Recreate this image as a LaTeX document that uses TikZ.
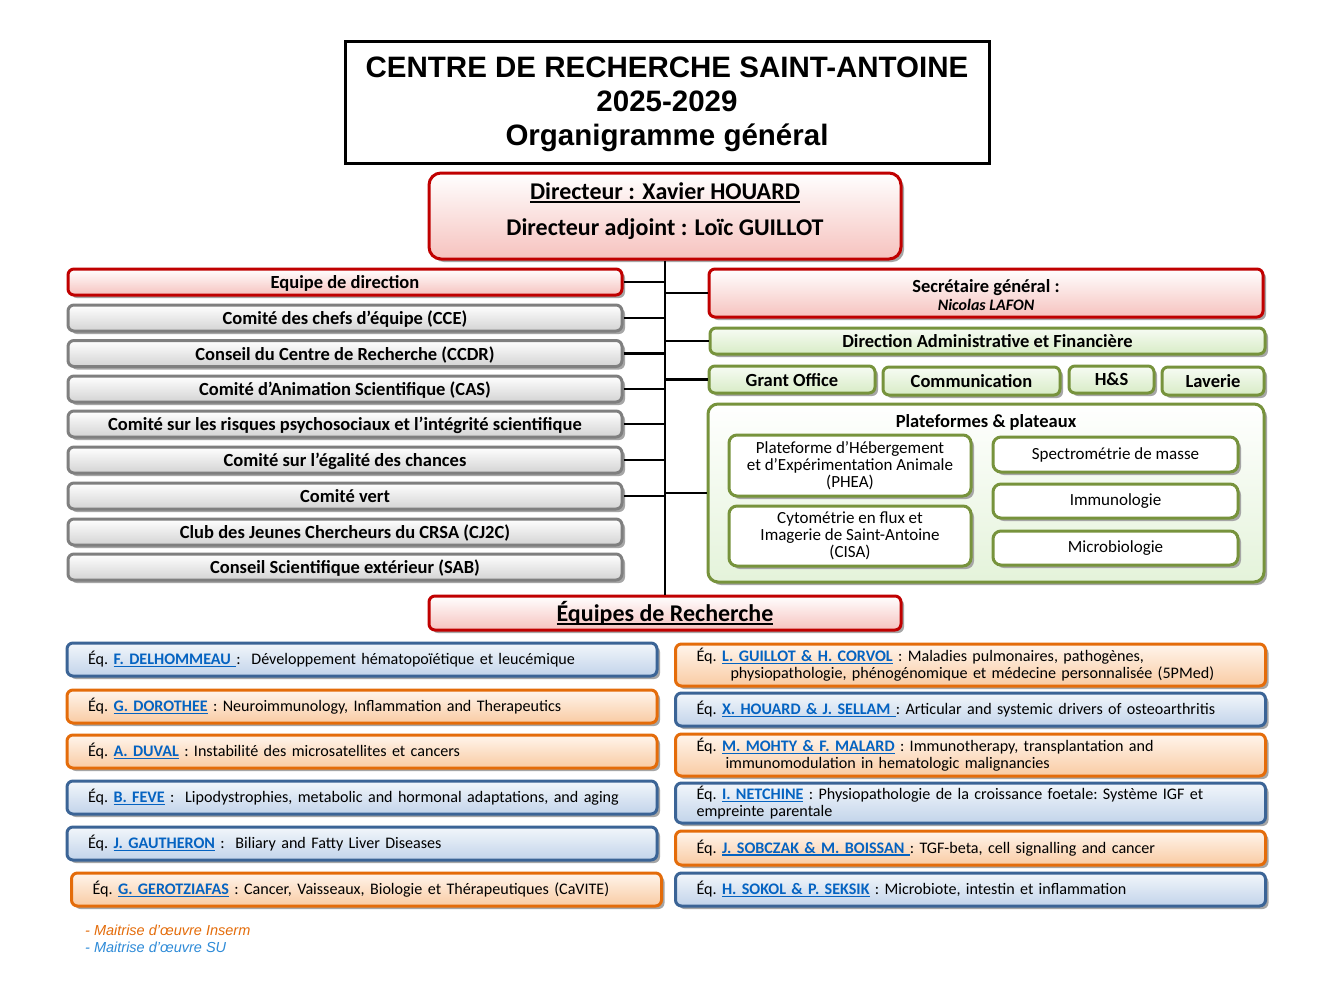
\documentclass[tikz,border=0pt]{standalone}
\usepackage{fontspec}
\setmainfont{Carlito}
\newfontfamily\arialf{Liberation Sans}
\usetikzlibrary{shadows}

\definecolor{redB}{HTML}{C00000}
\definecolor{redF}{HTML}{F6C2BE}
\definecolor{greyB}{HTML}{7F7F7F}
\definecolor{greyF}{HTML}{D3D3D3}
\definecolor{greenB}{HTML}{77933C}
\definecolor{greenF}{HTML}{D8ECC6}
\definecolor{greenL}{HTML}{E4F3DA}
\definecolor{blueB}{HTML}{3B6496}
\definecolor{blueF}{HTML}{C2D4EA}
\definecolor{blueT}{HTML}{F2F6FB}
\definecolor{orangeB}{HTML}{E46C0A}
\definecolor{orangeF}{HTML}{F9CBA3}
\definecolor{orangeT}{HTML}{FFF5EC}
\definecolor{linkc}{HTML}{0563C1}
\definecolor{legO}{HTML}{E46C0A}
\definecolor{legB}{HTML}{2E8BD8}

\newcommand\myul[1]{\leavevmode\setbox0\hbox{#1}\rlap{\raisebox{-0.14em}{\rule{\wd0}{0.07em}}}\box0}
\newcommand\lnk[1]{{\color{linkc}\bfseries\myul{#1}}}
\newcommand\nohyph{\frenchspacing\hyphenpenalty=10000\relax\exhyphenpenalty=10000\relax}

\tikzset{
  box/.style={draw, line width=3pt, rounded corners=6pt, inner sep=0pt, align=center,
    general shadow={fill=black!35, shadow xshift=3pt, shadow yshift=-3pt}},
  redbox/.style={box, draw=redB, top color=white, bottom color=redF},
  greybox/.style={box, draw=greyB, top color=white, bottom color=greyF},
  greenbox/.style={box, draw=greenB, top color=greenL!30, bottom color=greenF},
  platbox/.style={box, draw=greenB, rounded corners=8pt, fill=white, font=\fontsize{17}{17}\selectfont},
  blueteam/.style={box, draw=blueB, top color=blueT, bottom color=blueF},
  orangeteam/.style={box, draw=orangeB, top color=orangeT, bottom color=orangeF},
  team/.style={minimum height=33pt, text width=548pt, inner xsep=21pt, align=left,
    font=\fontsize{16.1}{17}\selectfont\nohyph},
  comite/.style={greybox, minimum width=554pt, minimum height=26pt, text depth=0pt, font=\bfseries\fontsize{18.5}{20}\selectfont},
  hb/.style={text depth=0pt, font=\bfseries\fontsize{18.5}{20}\selectfont},
  conn/.style={line width=2.2pt, black},
}

\begin{document}
\begin{tikzpicture}[x=1pt,y=-1pt]
\useasboundingbox (0,0) rectangle (1340,983);
\fill[white] (0,0) rectangle (1340,983);

% Title
\node[draw=black, line width=3pt, minimum width=644pt, minimum height=122pt, inner sep=0pt] (title) at (667,102) {};
\node[align=center, inner sep=0pt, font=\arialf\bfseries\fontsize{29.5}{34}\selectfont] (titletxt) at (667,104)
  {CENTRE DE RECHERCHE SAINT-ANTOINE\\2025-2029\\Organigramme général};

% Director
\node[redbox, rounded corners=12pt, minimum width=472pt, minimum height=86pt] (dir) at (665,216) {};
\node[align=center, font=\bfseries\fontsize{24}{36}\selectfont] (dirtxt) at (665,211)
  {\myul{Directeur : Xavier HOUARD}\\Directeur adjoint : Loïc GUILLOT};

% Left committees
\node[redbox, minimum width=554pt, minimum height=26pt, hb] (edd) at (345,282) {Equipe de direction};
\node[comite] (cce)  at (345,318)   {Comité des chefs d’équipe (CCE)};
\node[comite] (ccdr) at (345,353.5) {Conseil du Centre de Recherche (CCDR)};
\node[comite] (cas)  at (345,389)   {Comité d’Animation Scientifique (CAS)};
\node[comite] (rps)  at (345,424)   {Comité sur les risques psychosociaux et l’intégrité scientifique};
\node[comite] (ega)  at (345,460)   {Comité sur l’égalité des chances};
\node[comite] (vert) at (345,496)   {Comité vert};
\node[comite] (cj2c) at (345,532)   {Club des Jeunes Chercheurs du CRSA (CJ2C)};
\node[comite] (sab)  at (345,567)   {Conseil Scientifique extérieur (SAB)};

% Right administration
\node[redbox, minimum width=554pt, minimum height=48pt] (sec) at (986,293) {};
\node[align=center, font=\bfseries\fontsize{18.5}{18}\selectfont] (sectxt) at (986,295)
  {Secrétaire général :\\{\fontsize{16}{18}\selectfont\itshape Nicolas LAFON}};
\node[greenbox, minimum width=555pt, minimum height=26pt, hb] (daf) at (987.5,341) {Direction Administrative et Financière};
\node[greenbox, minimum width=166pt, minimum height=27pt, hb] (grant) at (792,379.5) {Grant Office};
\node[greenbox, minimum width=177pt, minimum height=28pt, hb] (comm) at (971.5,381) {Communication};
\node[greenbox, minimum width=85pt, minimum height=27pt, hb] (hs) at (1111.5,379.5) {H\&S};
\node[greenbox, minimum width=102pt, minimum height=28pt, hb] (lav) at (1213,381) {Laverie};

% Platforms
\node[box, draw=greenB, rounded corners=10pt, top color=white, bottom color=greenL, minimum width=556pt, minimum height=178pt] (plat) at (986,493) {};
\node[hb] (plattitle) at (986,421) {Plateformes \& plateaux};
\node[platbox, minimum width=242pt, minimum height=61pt] (phea) at (850,465.5)
  {Plateforme d’Hébergement\\et d’Expérimentation Animale\\(PHEA)};
\node[platbox, minimum width=242pt, minimum height=60pt] (cisa) at (850,536)
  {Cytométrie en flux et\\Imagerie de Saint-Antoine\\(CISA)};
\node[platbox, minimum width=245pt, minimum height=35pt] (spec) at (1115.5,454.5) {Spectrométrie de masse};
\node[platbox, minimum width=245pt, minimum height=34pt] (immu) at (1115.5,501) {Immunologie};
\node[platbox, minimum width=245pt, minimum height=34pt] (micro) at (1115.5,548) {Microbiologie};

% Research teams header
\node[redbox, minimum width=472pt, minimum height=34pt, font=\bfseries\fontsize{24}{26}\selectfont] (eq) at (665,613)
  {\myul{Équipes de Recherche}};

% Connectors
\draw[conn] (dir.south) -- (eq.north);
\foreach \n in {edd,cce,ccdr,cas,rps,ega,vert}
  \draw[conn] (\n.east) -- (dir.south |- \n.east);
\foreach \n in {sec,daf,grant,plat}
  \draw[conn] (\n.west) -- (dir.south |- \n.west);

% Teams left
\node[blueteam, team] (t1) at (362,659.5) {Éq. \lnk{F. DELHOMMEAU }:\ \ Développement hématopoïétique et leucémique};
\node[orangeteam, team] (t2) at (362,706.5) {Éq. \lnk{G. DOROTHEE} : Neuroimmunology, Inflammation and Therapeutics};
\node[orangeteam, team] (t3) at (362,751.5) {Éq. \lnk{A. DUVAL} : Instabilité des microsatellites et cancers};
\node[blueteam, team] (t4) at (362,797.5) {Éq. \lnk{B. FEVE} :\ \ Lipodystrophies, metabolic and hormonal adaptations, and aging};
\node[blueteam, team] (t5) at (362,843.5) {Éq. \lnk{J. GAUTHERON} :\ \ Biliary and Fatty Liver Diseases};
\node[orangeteam, team] (t6) at (366.5,889.5) {Éq. \lnk{G. GEROTZIAFAS} : Cancer, Vaisseaux, Biologie et Thérapeutiques (CaVITE)};

% Teams right
\node[orangeteam, team, minimum height=42pt] (t7) at (970.5,665)
  {Éq. \lnk{L. GUILLOT \& H. CORVOL} : Maladies pulmonaires, pathogènes,\\\hspace*{34pt}physiopathologie, phénogénomique et médecine personnalisée (5PMed)};
\node[blueteam, team] (t8) at (970.5,709.5) {Éq. \lnk{X. HOUARD \& J. SELLAM }: Articular and systemic drivers of osteoarthritis};
\node[orangeteam, team, minimum height=42pt] (t9) at (970.5,755)
  {Éq. \lnk{M. MOHTY \& F. MALARD} : Immunotherapy, transplantation and\\\hspace*{29pt}immunomodulation in hematologic malignancies};
\node[blueteam, team, minimum height=40pt] (t10) at (970.5,803)
  {Éq. \lnk{I. NETCHINE} : Physiopathologie de la croissance foetale: Système IGF et\\empreinte parentale};
\node[orangeteam, team, minimum height=34pt] (t11) at (970.5,848) {Éq. \lnk{J. SOBCZAK \& M. BOISSAN }: TGF-beta, cell signalling and cancer};
\node[blueteam, team] (t12) at (970.5,889.5) {Éq. \lnk{H. SOKOL \& P. SEKSIK} : Microbiote, intestin et inflammation};

% Legend
\node[anchor=west, inner sep=0pt, text=legO, font=\arialf\itshape\fontsize{14.5}{17}\selectfont] (leg1) at (85,930) {- Maitrise d’œuvre Inserm};
\node[anchor=west, inner sep=0pt, text=legB, font=\arialf\itshape\fontsize{14.5}{17}\selectfont] (leg2) at (85,947) {- Maitrise d’œuvre SU};
\end{tikzpicture}
\end{document}
